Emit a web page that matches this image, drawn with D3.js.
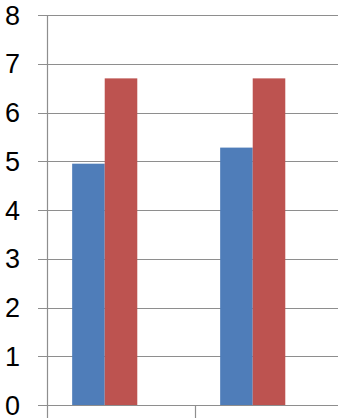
<!DOCTYPE html>
<html lang="en">
<head>
	<meta charset="utf-8">
	<title>Grouped bar chart</title>
	<style>
	body { margin: 0; background: #fff; }
	.tick-label { font-family: "Liberation Sans", sans-serif; font-size: 27px; fill: #000; }
	</style>
</head>
<body>
	<svg width="338" height="418"></svg>
	<script src="https://cdn.jsdelivr.net/npm/d3@7/dist/d3.min.js"></script>
	<script>

	// chart values
	var categories = ["A", "B"];
	var seriesNames = ["Series 1", "Series 2"];
	var series1 = [4.95, 5.28];
	var series2 = [6.7, 6.7];
	var yTicks = [0, 1, 2, 3, 4, 5, 6, 7, 8];
	var colors = ["#4F7DB9", "#BD5350"];

	var svg = d3.select("svg"),
		width = +svg.attr("width"),
		height = +svg.attr("height");

	var plotLeft = 47, plotRight = 343, plotTop = 15, plotBottom = 405;

	var y = d3.scaleLinear()
		.domain([0, 8])
		.range([plotBottom, plotTop]);

	var x = d3.scaleBand()
		.domain(categories)
		.range([plotLeft, plotRight])
		.padding(0);

	// bars sit a bit left inside each category band, like the original
	var xSub = d3.scaleBand()
		.domain(seriesNames)
		.range([x.bandwidth() * 0.17, x.bandwidth() * 0.61])
		.padding(0);

	var rows = categories.map(function(c, i) {
		return { cat: c, values: [series1[i], series2[i]] };
	});

	// gridlines + y tick marks
	svg.append("g")
		.selectAll("line")
		.data(yTicks.filter(function(d) { return d > 0; }))
		.enter().append("line")
		  .attr("x1", plotLeft - 9)
		  .attr("x2", width)
		  .attr("y1", function(d) { return Math.round(y(d)) + 0.5; })
		  .attr("y2", function(d) { return Math.round(y(d)) + 0.5; })
		  .attr("stroke", "#8e8e8e")
		  .attr("stroke-width", 1.2);

	// bars
	var group = svg.append("g")
		.selectAll("g")
		.data(rows)
		.enter().append("g")
		  .attr("transform", function(d) { return "translate(" + x(d.cat) + ",0)"; });

	group.selectAll("rect")
		.data(function(d) { return d.values.map(function(v, j) { return { name: seriesNames[j], value: v, idx: j }; }); })
		.enter().append("rect")
		  .attr("x", function(d) { return xSub(d.name); })
		  .attr("width", xSub.bandwidth())
		  .attr("y", function(d) { return y(d.value); })
		  .attr("height", function(d) { return y(0) - y(d.value); })
		  .attr("fill", function(d) { return colors[d.idx]; });

	// x axis line and category separators
	svg.append("line")
		.attr("x1", plotLeft - 9).attr("x2", width)
		.attr("y1", Math.round(y(0)) + 0.5).attr("y2", Math.round(y(0)) + 0.5)
		.attr("stroke", "#8e8e8e").attr("stroke-width", 1.2);

	svg.append("g")
		.selectAll("line")
		.data(categories.slice(1))
		.enter().append("line")
		  .attr("x1", function(d) { return Math.round(x(d)) + 0.5; })
		  .attr("x2", function(d) { return Math.round(x(d)) + 0.5; })
		  .attr("y1", y(0))
		  .attr("y2", height)
		  .attr("stroke", "#8e8e8e").attr("stroke-width", 1.2);

	// y axis line
	svg.append("line")
		.attr("x1", plotLeft + 0.5).attr("x2", plotLeft + 0.5)
		.attr("y1", y(8)).attr("y2", height)
		.attr("stroke", "#8e8e8e").attr("stroke-width", 1.2);

	// y tick labels
	svg.append("g")
		.selectAll("text")
		.data(yTicks)
		.enter().append("text")
		  .attr("class", "tick-label")
		  .attr("x", 20)
		  .attr("y", function(d) { return y(d); })
		  .attr("dy", "0.36em")
		  .attr("text-anchor", "end")
		  .text(function(d) { return d; });

	</script>
</body>
</html>
